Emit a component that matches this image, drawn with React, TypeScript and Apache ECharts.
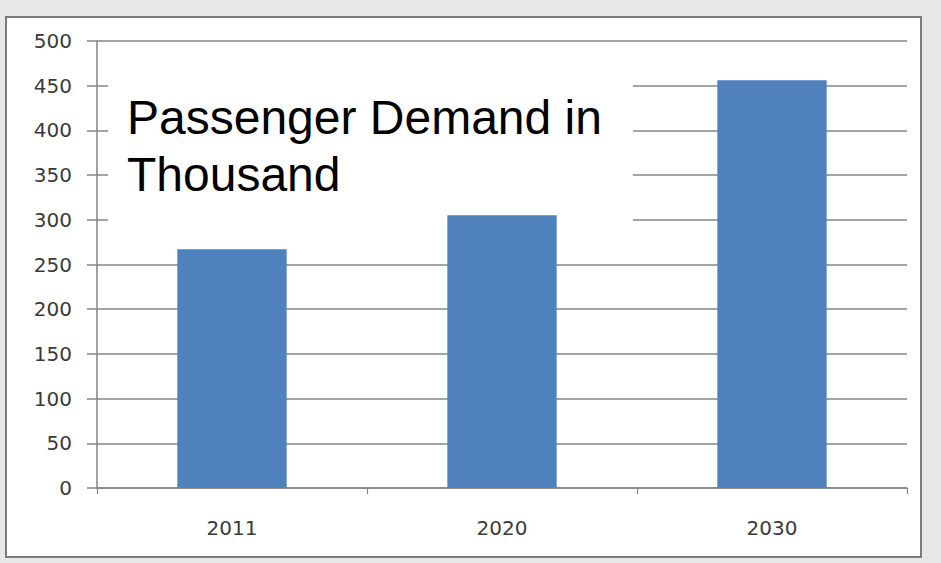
import React, { useEffect, useRef } from "react";
import * as echarts from "echarts";

const categories = ["2011", "2020", "2030"];
const demandValues = [267, 305, 456];
const yMin = 0;
const yMax = 500;
const yInterval = 50;
const titleText = "Passenger Demand in\nThousand";

export default function App() {
  const ref = useRef<HTMLDivElement>(null);

  useEffect(() => {
    document.body.style.margin = "0";
    const chart = echarts.init(ref.current!, null, { renderer: "svg" });
    chart.setOption({
      animation: false,
      backgroundColor: "#e7e8e5",
      title: {
        text: titleText,
        left: 108,
        top: 52,
        z: 3,
        padding: [37, 31, 42, 19],
        backgroundColor: "#ffffff",
        textStyle: {
          fontFamily: "'Liberation Sans', Arial, sans-serif",
          fontSize: 48,
          fontWeight: "normal",
          lineHeight: 57,
          color: "#000000",
        },
      },
      grid: { left: 97, right: 34, top: 41, bottom: 75, containLabel: false },
      xAxis: {
        type: "category",
        data: categories,
        boundaryGap: true,
        axisLine: { show: true, lineStyle: { color: "#858585", width: 1.5 } },
        axisTick: { show: true, length: 6, alignWithLabel: false, lineStyle: { color: "#858585", width: 1.2 } },
        axisLabel: { margin: 30, fontFamily: "DejaVu Sans", fontSize: 20, color: "#3a3a3a" },
        splitLine: { show: false },
      },
      yAxis: {
        type: "value",
        min: yMin,
        max: yMax,
        interval: yInterval,
        axisLine: { show: true, lineStyle: { color: "#858585", width: 1.5 } },
        axisTick: { show: true, length: 10, inside: false, lineStyle: { color: "#858585", width: 1.5 } },
        axisLabel: { margin: 25, fontFamily: "DejaVu Sans", fontSize: 20, color: "#3a3a3a" },
        splitLine: { show: true, lineStyle: { color: "#868686", width: 1.6 } },
      },
      series: [
        {
          type: "bar",
          data: demandValues,
          barWidth: "40.5%",
          z: 10,
          itemStyle: { color: "#4f81bd" },
        },
      ],
      graphic: [
        {
          type: "rect",
          z: -10,
          shape: { x: 6, y: 17, width: 915, height: 540 },
          style: { fill: "#ffffff", stroke: "#7a7a7a", lineWidth: 2 },
          silent: true,
        },
      ],
    });
    return () => chart.dispose();
  }, []);

  return (
    <div
      ref={ref}
      style={{ position: "fixed", left: 0, top: 0, width: 941, height: 563 }}
    />
  );
}
